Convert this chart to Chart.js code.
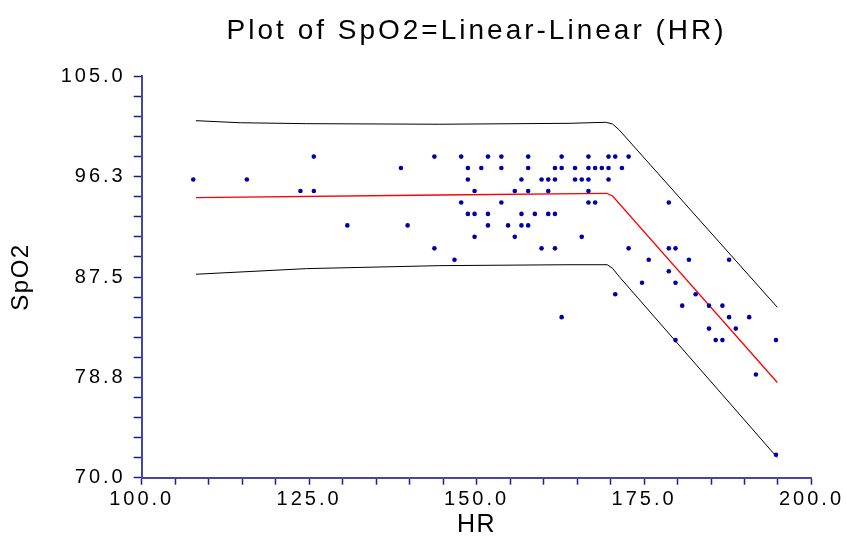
<!DOCTYPE html>
<html>
<head>
<meta charset="utf-8">
<script src="https://cdn.jsdelivr.net/npm/chart.js@4.4.1/dist/chart.umd.min.js"></script>
<style>
html,body{margin:0;padding:0;background:#fff;}
#wrap{width:847px;height:538px;}
</style>
</head>
<body>
<div id="wrap"><canvas id="c" width="847" height="538"></canvas></div>
<script>
// ---- data ----
const hr = [
  107.7, 115.7, 148.7, 156.7, 159.7, 160.7, 161.7, 164.7, 165.7, 166.7, 169.7,
  125.7, 143.7, 147.7, 151.7, 153.7, 157.7, 162.7, 166.7, 169.7, 170.7, 172.7,
  123.7, 125.7, 149.7, 155.7, 157.7, 160.7, 166.7,
  130.7, 139.7, 151.7, 154.7, 156.7, 157.7,
  138.7, 148.7, 150.7, 153.7, 157.7, 161.7, 162.7, 164.7, 166.7, 167.7, 168.7, 169.7, 171.7,
  143.7, 159.7, 161.7, 172.7, 178.7, 179.7,
  147.7, 153.7, 166.7, 167.7, 178.7,
  148.7, 149.7, 151.7, 156.7, 158.7, 160.7, 161.7,
  149.7, 155.7, 165.7,
  146.7, 175.7, 181.7, 187.7,
  178.7,
  174.7, 179.7,
  170.7, 182.7,
  180.7, 184.7, 186.7,
  162.7, 187.7, 190.7,
  184.7, 188.7,
  179.7, 185.7, 186.7, 194.7,
  191.7,
  194.7
];
const spo2 = [
  96, 96, 96, 96, 96, 96, 96, 96, 96, 96, 96,
  98, 98, 98, 98, 98, 98, 98, 98, 98, 98, 98,
  95, 95, 95, 95, 95, 95, 95,
  92, 92, 92, 92, 92, 92,
  97, 97, 97, 97, 97, 97, 97, 97, 97, 97, 97, 97, 97,
  90, 90, 90, 90, 90, 90,
  94, 94, 94, 94, 94,
  93, 93, 93, 93, 93, 93, 93,
  91, 91, 91,
  89, 89, 89, 89,
  88,
  87, 87,
  86, 86,
  85, 85, 85,
  84, 84, 84,
  83, 83,
  82, 82, 82, 82,
  79,
  72
];
// fitted line and limits (read as points along the drawn curves)
const fitX   = [108.1, 144.4, 169.4, 170.3, 194.9];
const fitY   = [94.42, 94.65, 94.80, 94.56, 78.30];
const upperX = [108.1, 114.7, 124.6, 144.4, 163.8, 169.3, 170.3, 171.3, 194.9];
const upperY = [101.13, 100.95, 100.87, 100.82, 100.90, 100.99, 100.84, 100.32, 84.86];
const lowerX = [108.1, 124.6, 144.4, 163.8, 169.5, 170.3, 171.3, 194.9];
const lowerY = [87.74, 88.23, 88.49, 88.57, 88.57, 88.26, 87.53, 71.75];
// axes
const xMajor = [100, 125, 150, 175, 200];
const xTickLabels = ["100.0", "125.0", "150.0", "175.0", "200.0"];
const yMajor = [70, 78.75, 87.5, 96.25, 105];
const yTickLabels = ["70.0", "78.8", "87.5", "96.3", "105.0"];
const minorPerMajor = 5;

function pairs(xs, ys){ return xs.map((x,i)=>({x:x, y:ys[i]})); }
function allTicks(major){
  const out = [];
  for (let i = 0; i < major.length - 1; i++){
    const step = (major[i+1]-major[i]) / minorPerMajor;
    for (let k = 0; k < minorPerMajor; k++) out.push({value: major[i] + k*step});
  }
  out.push({value: major[major.length-1]});
  return out;
}

const FONT = "'Liberation Sans', Arial, sans-serif";
const axisColor = '#4646a6';
const tickColor = '#1c1c8c';
const SPACING = '3px';

const spacingPlugin = {
  id: 'spacing',
  beforeUpdate(chart){ chart.ctx.letterSpacing = SPACING; },
  beforeDraw(chart){ chart.ctx.letterSpacing = SPACING; }
};
function titleSpacing(s){
  if (s._wrappedTitle) return;
  const orig = s.drawTitle;
  s.drawTitle = function(){ this.ctx.letterSpacing = '1.5px'; orig.apply(this, arguments); this.ctx.letterSpacing = SPACING; };
  s._wrappedTitle = true;
}

new Chart(document.getElementById('c'), {
  type: 'scatter',
  data: {
    datasets: [
      { data: pairs(upperX, upperY), showLine: true, borderColor: '#000', borderWidth: 1, pointRadius: 0, tension: 0, order: 3 },
      { data: pairs(lowerX, lowerY), showLine: true, borderColor: '#000', borderWidth: 1, pointRadius: 0, tension: 0, order: 3 },
      { data: pairs(fitX, fitY), showLine: true, borderColor: '#ff0000', borderWidth: 1.3, pointRadius: 0, tension: 0, order: 2 },
      { data: pairs(hr, spo2), showLine: false, pointRadius: 2.3, pointBorderWidth: 0, backgroundColor: '#0000a8', borderColor: '#0000a8', order: 1 }
    ]
  },
  options: {
    responsive: false,
    animation: false,
    devicePixelRatio: 1,
    layout: { padding: { left: 0, right: 34, top: 0, bottom: 0 } },
    plugins: {
      legend: { display: false },
      tooltip: { enabled: false },
      title: {
        display: true,
        text: 'Plot of SpO2=Linear-Linear (HR)',
        fullSize: false,
        color: '#000',
        font: { family: FONT, size: 28, weight: 'normal', lineHeight: 1.2 },
        padding: { top: 14.2, bottom: 28.5 }
      }
    },
    scales: {
      x: {
        type: 'linear', min: 100, max: 200,
        afterBuildTicks(s){ s.ticks = allTicks(xMajor); },
        afterFit(s){ s.height = 60.3; titleSpacing(s); },
        ticks: {
          autoSkip: false, maxRotation: 0, minRotation: 0, padding: 3,
          color: '#000', font: { family: FONT, size: 20 },
          callback(v, i){ return i % minorPerMajor === 0 ? xTickLabels[i / minorPerMajor] : ''; }
        },
        grid: { display: true, drawOnChartArea: false, drawTicks: true, tickLength: 7, tickColor: tickColor, tickWidth: 1.5 },
        border: { display: true, color: axisColor, width: 2 },
        title: { display: true, text: 'HR', color: '#000', font: { family: FONT, size: 25, lineHeight: 1 }, padding: { top: 0, bottom: 0 } }
      },
      y: {
        type: 'linear', min: 70, max: 105,
        afterBuildTicks(s){ s.ticks = allTicks(yMajor); },
        afterFit(s){ s.width = 141.7; titleSpacing(s); },
        ticks: {
          autoSkip: false, padding: 8,
          color: '#000', font: { family: FONT, size: 20 },
          callback(v, i){ return i % minorPerMajor === 0 ? yTickLabels[i / minorPerMajor] : ''; }
        },
        grid: { display: true, drawOnChartArea: false, drawTicks: true, tickLength: 8, tickColor: tickColor, tickWidth: 1.5 },
        border: { display: true, color: axisColor, width: 2 },
        title: { display: true, text: 'SpO2', color: '#000', font: { family: FONT, size: 24, lineHeight: 1 }, padding: { top: 9, bottom: 9 } }
      }
    }
  },
  plugins: [spacingPlugin]
});
</script>
</body>
</html>
